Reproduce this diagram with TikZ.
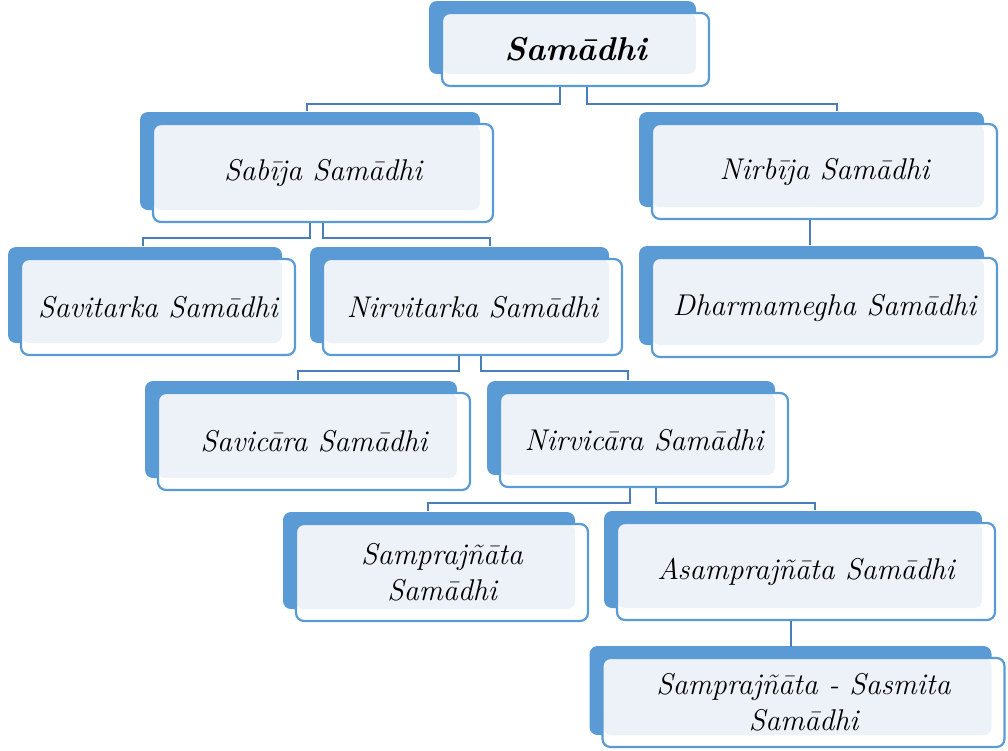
\documentclass[tikz,border=0pt]{standalone}
\usepackage{fontspec}
\usepackage{xcolor}
\usetikzlibrary{shadows}
\definecolor{myblue}{RGB}{91,155,213}
\definecolor{mylight}{RGB}{237,242,249}
\definecolor{mylink}{RGB}{74,126,187}

\tikzset{
  box/.style={draw=myblue, line width=2.2pt, fill=white, rounded corners=8pt,
    inner sep=0pt, align=center, font=\itshape\fontsize{30}{36}\selectfont,
    copy shadow={shadow xshift=-13pt, shadow yshift=12pt, fill=myblue, draw=none},
    path picture={\fill[mylight, rounded corners=8pt] (path picture bounding box.north west)
      rectangle ([xshift=-13pt,yshift=12pt]path picture bounding box.south east);}},
  link/.style={draw=mylink, line width=2.2pt}
}

\begin{document}
\begin{tikzpicture}[x=1pt, y=-1pt]
\useasboundingbox (0,0) rectangle (1008,750);

% the boxes
\node[box, minimum width=267pt, minimum height=73pt,
  font=\bfseries\itshape\fontsize{33}{40}\selectfont] (samadhi) at (575.5,49.5) {Samādhi};
\node[box, minimum width=340pt, minimum height=98pt] (sabija) at (323,173) {Sabīja Samādhi};
\node[box, minimum width=345pt, minimum height=95pt] (nirbija) at (824.5,171.5) {Nirbīja Samādhi};
\node[box, minimum width=345pt, minimum height=99pt] (dharma) at (824.5,307.5) {Dharmamegha Samādhi};
\node[box, minimum width=274pt, minimum height=96pt] (savitarka) at (158,307) {Savitarka Samādhi};
\node[box, minimum width=299pt, minimum height=96pt] (nirvitarka) at (472.5,307) {Nirvitarka Samādhi};
\node[box, minimum width=312pt, minimum height=97pt] (savicara) at (314,441.5) {Savicāra Samādhi};
\node[box, minimum width=288pt, minimum height=94pt] (nirvicara) at (644,440) {Nirvicāra Samādhi};
\node[box, minimum width=292pt, minimum height=97pt] (sampra) at (442,572.5) {Samprajñāta\\Samādhi};
\node[box, minimum width=378pt, minimum height=97pt] (asampra) at (806,571.5) {Asamprajñāta Samādhi};
\node[box, minimum width=402pt, minimum height=89pt] (sasmita) at (803.5,702.5) {Samprajñāta - Sasmita\\Samādhi};

% connectors
\draw[link] ([xshift=-15.5pt]samadhi.south) -- ++(0,17) -| ([xshift=-16pt,yshift=12pt]sabija.north);
\draw[link] ([xshift=11.5pt]samadhi.south) -- ++(0,17) -| ([xshift=12.5pt,yshift=12pt]nirbija.north);
\draw[link] ([xshift=-13pt]sabija.south) -- ++(0,15) -| ([xshift=-15pt,yshift=12pt]savitarka.north);
\draw[link] (sabija.south) -- ++(0,15) -| ([xshift=17.5pt,yshift=12pt]nirvitarka.north);
\draw[link] ([xshift=-14.5pt]nirbija.south) -- ([xshift=-14.5pt,yshift=12pt]dharma.north);
\draw[link] ([xshift=-13.5pt]nirvitarka.south) -- ++(0,15) -| ([xshift=-16pt,yshift=12pt]savicara.north);
\draw[link] ([xshift=8.5pt]nirvitarka.south) -- ++(0,15) -| ([xshift=-16pt,yshift=12pt]nirvicara.north);
\draw[link] ([xshift=-14pt]nirvicara.south) -- ++(0,15) -| ([xshift=-14pt,yshift=12pt]sampra.north);
\draw[link] ([xshift=12pt]nirvicara.south) -- ++(0,15) -| ([xshift=9pt,yshift=12pt]asampra.north);
\draw[link] ([xshift=-15pt]asampra.south) -- ++(0,26);
\end{tikzpicture}
\end{document}
